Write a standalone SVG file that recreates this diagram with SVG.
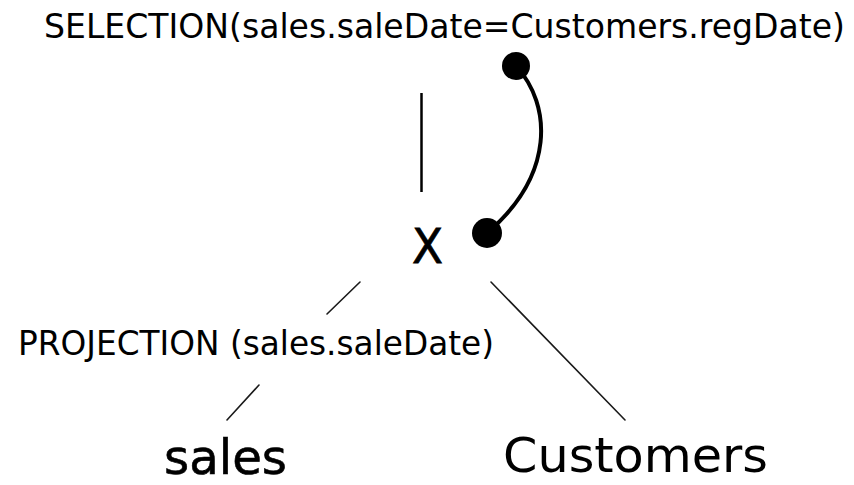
<svg xmlns="http://www.w3.org/2000/svg" width="854" height="485" viewBox="0 0 854 485">
  <style>
    text { font-family: "DejaVu Sans", "Liberation Sans", sans-serif; fill: #000; }
    .op { font-size: 33px; }
    .rel { font-size: 48px; }
    .edge { stroke: #1a1a1a; stroke-width: 1.6; fill: none; stroke-linecap: round; }
    .stem { stroke: #000; stroke-width: 2.5; fill: none; }
    .join { stroke: #000; stroke-width: 4; fill: none; stroke-linecap: round; }
    .dot { fill: #000; }
  </style>
  <rect width="854" height="485" fill="#fff"/>

  <!-- tree edges -->
  <g id="connectors">
    <line class="stem" x1="421.5" y1="93" x2="421.5" y2="192"/>
    <line class="edge" x1="360" y1="282" x2="327" y2="314"/>
    <line class="edge" x1="491" y1="282" x2="625" y2="420"/>
    <line class="edge" x1="259" y1="385" x2="227" y2="420"/>
    <!-- join-condition link between the predicate and the product -->
    <path class="join" d="M516,66 C552,105 555,175 487,233"/>
    <circle class="dot" cx="516" cy="66" r="14"/>
    <circle class="dot" cx="487" cy="233" r="15"/>
  </g>

  <g id="selection">
    <text class="op" x="44" y="38" textLength="801" lengthAdjust="spacingAndGlyphs">SELECTION(sales.saleDate=Customers.regDate)</text>
  </g>

  <g id="product">
    <text class="rel" x="412" y="263" textLength="31" lengthAdjust="spacingAndGlyphs" stroke="#000" stroke-width="0.8">X</text>
  </g>

  <g id="projection">
    <text class="op" x="18" y="355" textLength="476" lengthAdjust="spacingAndGlyphs">PROJECTION (sales.saleDate)</text>
  </g>

  <g id="sales">
    <text class="rel" x="164" y="474" textLength="123" lengthAdjust="spacingAndGlyphs" stroke="#000" stroke-width="0.6">sales</text>
  </g>

  <g id="customers">
    <text class="rel" x="503" y="472" textLength="265" lengthAdjust="spacingAndGlyphs">Customers</text>
  </g>
</svg>
